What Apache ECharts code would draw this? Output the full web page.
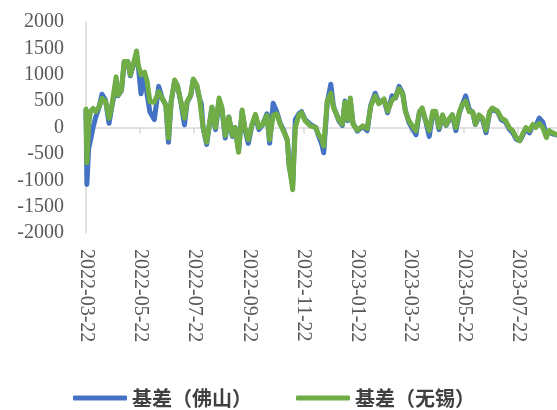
<!DOCTYPE html>
<html>
<head>
<meta charset="utf-8">
<script src="https://cdn.jsdelivr.net/npm/echarts@6/dist/echarts.min.js"></script>
<style>
  html, body { margin: 0; padding: 0; background: #fff; }
  #main { width: 557px; height: 410px; }
</style>
</head>
<body>
<div id="main"></div>
<script>
// x axis runs by calendar day from 2022-03-22
var startDate = '2022-03-22'
var dayCount = 532

// sample points: day offset from startDate, basis values
var dayIdx = [0, 1, 3, 5, 8, 11, 15, 18, 22, 26, 29, 34, 36, 40, 43, 47, 50, 54, 57, 59,
  62, 66, 69, 72, 77, 82, 86, 90, 93, 96, 100, 103, 107, 111, 114, 118, 121, 125, 128, 130,
  132, 136, 142, 146, 150, 153, 157, 161, 165, 168, 172, 176, 179, 183, 187, 191, 195, 199, 204, 207,
  211, 215, 219, 223, 227, 229, 231, 233, 234, 236, 240, 243, 247, 253, 259, 262, 266, 268, 272, 276,
  279, 285, 289, 292, 295, 298, 301, 306, 312, 317, 321, 326, 330, 336, 340, 345, 349, 353, 357, 360,
  364, 368, 372, 376, 379, 383, 387, 391, 394, 398, 402, 406, 410, 413, 417, 421, 424, 428, 432, 436,
  439, 443, 447, 451, 455, 458, 464, 468, 473, 477, 481, 485, 489, 492, 496, 500, 504, 507, 511, 515,
  519, 522, 526, 530]

var foshan = [330, -1080, -395, -250, 0, 200, 400, 630, 520, 80, 380, 840, 600, 700, 1230, 1250, 980, 1220, 1300, 1150,
  640, 1000, 615, 300, 150, 780, 550, 425, -280, 490, 880, 800, 470, 50, 480, 600, 900, 780, 550, 450,
  0, -320, 380, -40, 500, 380, -200, 200, -170, 0, -430, 310, -20, -300, 40, 200, -40, 50, 260, -300,
  460, 300, 80, -60, -250, -700, -900, -1100, -650, 150, 260, 300, 150, 60, 0, -150, -330, -480, 480, 820,
  400, 130, 40, 500, 130, 500, 80, -70, 20, -60, 420, 650, 480, 520, 280, 600, 560, 780, 650, 330,
  100, -20, -140, 300, 340, 120, -170, 280, 300, -40, 220, 40, 160, 240, -60, 280, 420, 600, 350, 280,
  60, 200, 150, -100, 280, 340, 300, 150, 100, -30, -100, -220, -250, -160, -20, -100, 40, 20, 180, 100,
  -150, -80, -120, -140]

var wuxi = [350, -670, 50, 300, 360, 300, 400, 550, 500, 175, 400, 960, 615, 710, 1250, 1250, 1000, 1250, 1450, 1180,
  1000, 1050, 870, 490, 480, 680, 550, 425, -200, 490, 900, 800, 490, 175, 490, 615, 920, 800, 550, 520,
  0, -280, 390, 0, 560, 390, -150, 200, -150, 0, -470, 330, 0, -230, 50, 250, 0, 60, 230, -230,
  230, 260, 60, -80, -230, -740, -930, -1180, -740, 0, 240, 280, 130, 30, 0, -130, -230, -350, 500, 650,
  380, 150, 60, 480, 150, 560, 60, -50, 30, -20, 400, 600, 450, 540, 310, 520, 575, 735, 640, 310,
  130, 30, -60, 300, 370, 130, -60, 310, 310, 0, 240, 50, 180, 240, 0, 300, 430, 500, 300, 300,
  60, 240, 180, -50, 300, 370, 310, 180, 130, 0, -60, -190, -250, -130, 0, -60, 60, 0, 80, 0,
  -190, -60, -100, -130]

var yTicks = [-2000, 2000, 500]

function pad(n) { return n < 10 ? '0' + n : '' + n }

var categories = []
var t0 = Date.UTC(2022, 2, 22)
for (var i = 0; i < dayCount; i++) {
  var d = new Date(t0 + i * 86400000)
  categories.push(d.getUTCFullYear() + '-' + pad(d.getUTCMonth() + 1) + '-' + pad(d.getUTCDate()))
}

// labels / ticks on the 22nd of odd months
function showTick(index, value) {
  var m = parseInt(value.slice(5, 7), 10)
  return value.slice(8, 10) === '22' && m % 2 === 1
}

var chart = echarts.init(document.getElementById('main'))

chart.setOption({
  animation: false,
  grid: {
    left: 86,
    right: 0,
    top: 22,
    bottom: 177,
    containLabel: false
  },
  legend: {
    left: 68,
    top: 383,
    itemWidth: 54,
    itemHeight: 5,
    itemGap: 44,
    icon: 'roundRect',
    textStyle: {
      fontFamily: 'Noto Sans CJK SC',
      fontSize: 20,
      fontWeight: 'bold',
      color: '#404040'
    },
    data: ['基差（佛山）', '基差（无锡）']
  },
  xAxis: [{
    type: 'category',
    data: categories,
    boundaryGap: false,
    axisLine: { onZero: true, lineStyle: { color: '#d9d9d9', width: 1.5 } },
    axisTick: { show: true, interval: showTick, length: 6, lineStyle: { color: '#d9d9d9', width: 1.5 } },
    axisLabel: { show: false },
    splitLine: { show: false }
  }, {
    type: 'category',
    data: categories,
    boundaryGap: false,
    position: 'bottom',
    axisLine: { show: false },
    axisTick: { show: false },
    axisLabel: {
      interval: showTick,
      rotate: -90,
      margin: 16,
      fontFamily: 'Liberation Serif',
      fontSize: 20,
      color: '#595959'
    },
    splitLine: { show: false }
  }],
  yAxis: {
    type: 'value',
    min: yTicks[0],
    max: yTicks[1],
    interval: yTicks[2],
    axisLine: { show: true, lineStyle: { color: '#d9d9d9', width: 1.5 } },
    axisTick: { show: false },
    splitLine: { show: false },
    axisLabel: {
      margin: 22,
      fontFamily: 'Liberation Serif',
      fontSize: 20,
      color: '#595959',
      formatter: function (v) { return String(v) }
    }
  },
  series: [{
    name: '基差（佛山）',
    type: 'line',
    showSymbol: false,
    color: '#4472C4',
    lineStyle: { width: 5, join: 'round', cap: 'round' },
    data: dayIdx.map(function (d, i) { return [d, foshan[i]] })
  }, {
    name: '基差（无锡）',
    type: 'line',
    showSymbol: false,
    color: '#70AD47',
    lineStyle: { width: 5, join: 'round', cap: 'round' },
    data: dayIdx.map(function (d, i) { return [d, wuxi[i]] })
  }]
})
</script>
</body>
</html>
